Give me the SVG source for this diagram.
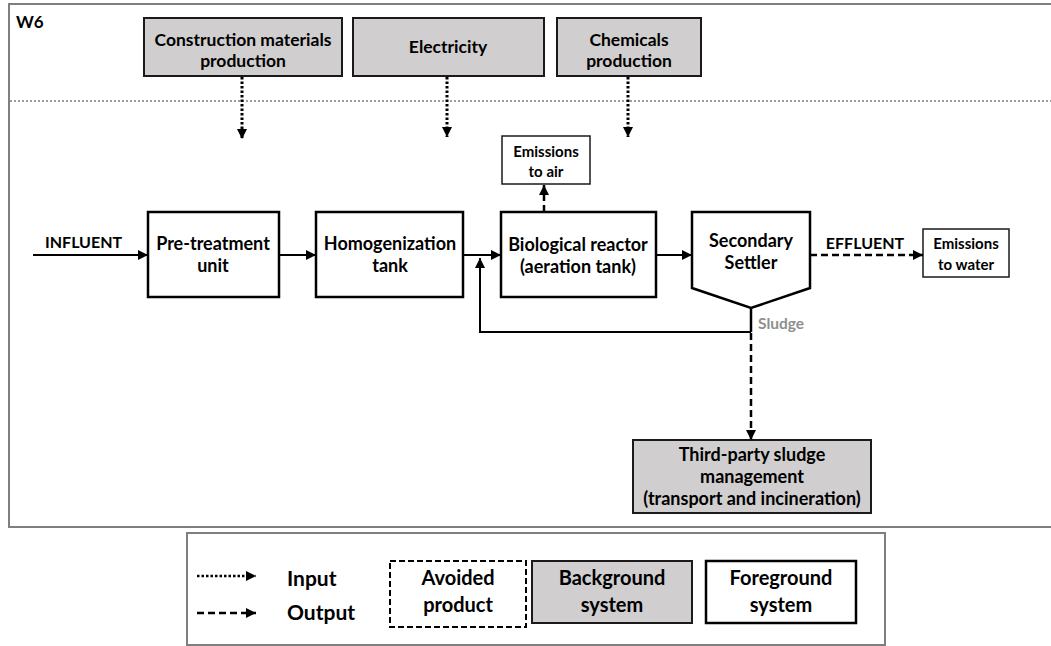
<svg xmlns="http://www.w3.org/2000/svg" width="1051" height="646" viewBox="0 0 1051 646">
<style>
text{font-family:"Lato","Liberation Sans",sans-serif;font-weight:bold;fill:#000;text-anchor:middle}
.bg{fill:#d0cece;stroke:#1a1a1a;stroke-width:2}
.fg{fill:#fff;stroke:#000;stroke-width:2.5}
.em{fill:#fff;stroke:#1a1a1a;stroke-width:1.5}
.t18{font-size:18px}
.t17{font-size:17.5px}
.t15{font-size:15px}
.t22{font-size:21px}
.t20{font-size:20px}
.solid{fill:none;stroke:#000;stroke-width:2}
.dot{fill:none;stroke:#000;stroke-width:3;stroke-dasharray:2.5 2}
.dash{fill:none;stroke:#000;stroke-width:2.5;stroke-dasharray:7 4}
</style>
<defs>
<marker id="ah" markerUnits="userSpaceOnUse" markerWidth="10" markerHeight="10" refX="10" refY="5" orient="auto"><path d="M0,0 L10,5 L0,10 z" fill="#000"/></marker>
</defs>
<rect width="1051" height="646" fill="#fff"/>
<g id="frame">
<rect x="9" y="4" width="1045" height="523" fill="none" stroke="#7f7f7f" stroke-width="2"/>
<line x1="10" y1="101" x2="1051" y2="101" stroke="#7f7f7f" stroke-width="1.5" stroke-dasharray="2 2"/>
<text x="16" y="28" style="font-size:17px;text-anchor:start">W6</text>
</g>
<g id="construction"><rect class="bg" x="144" y="18" width="198" height="58"/><text class="t17" x="243" y="46">Construction materials</text><text class="t17" x="243" y="67">production</text></g>
<g id="electricity"><rect class="bg" x="353" y="18" width="191" height="58"/><text class="t17" x="448" y="53">Electricity</text></g>
<g id="chemicals"><rect class="bg" x="557" y="18" width="144" height="58"/><text class="t17" x="629" y="46">Chemicals</text><text class="t17" x="629" y="67">production</text></g>
<g id="emissions-air"><rect class="em" x="502" y="136" width="88" height="48"/><text class="t15" x="546" y="157">Emissions</text><text class="t15" x="546" y="177">to air</text></g>
<g id="pretreatment"><rect class="fg" x="148" y="212" width="131" height="85"/><text class="t18" x="213" y="250">Pre-treatment</text><text class="t18" x="213" y="272">unit</text></g>
<g id="homogenization"><rect class="fg" x="316" y="212" width="147" height="85"/><text class="t18" x="390" y="250">Homogenization</text><text class="t18" x="390" y="272">tank</text></g>
<g id="bioreactor"><rect class="fg" x="501" y="212" width="155" height="85"/><text class="t18" x="578" y="251">Biological reactor</text><text class="t18" x="578" y="273">(aeration tank)</text></g>
<g id="settler"><path class="fg" d="M692,212 H810 V288 L751,308 L692,288 Z"/><text class="t18" x="751" y="247">Secondary</text><text class="t18" x="751" y="269">Settler</text></g>
<g id="emissions-water"><rect class="em" x="923" y="229" width="86" height="48"/><text class="t15" x="966" y="249">Emissions</text><text class="t15" x="966" y="270">to water</text></g>
<g id="sludge-mgmt"><rect class="bg" x="633" y="440" width="238" height="73"/><text class="t18" x="752" y="461">Third-party sludge</text><text class="t18" x="752" y="483">management</text><text class="t18" x="752" y="505">(transport and incineration)</text></g>
<g id="connectors">
<path class="dot" d="M242,77 V139" marker-end="url(#ah)"/>
<path class="dot" d="M447,77 V137" marker-end="url(#ah)"/>
<path class="dot" d="M628,77 V137" marker-end="url(#ah)"/>
<path class="solid" d="M33,255 H148" marker-end="url(#ah)"/>
<path class="solid" d="M279,255 H316" marker-end="url(#ah)"/>
<path class="solid" d="M463,255 H501" marker-end="url(#ah)"/>
<path class="solid" d="M656,255 H692" marker-end="url(#ah)"/>
<path class="dash" d="M544,212 V185" marker-end="url(#ah)"/>
<path class="dash" d="M810,255 H923" marker-end="url(#ah)"/>
<path class="solid" style="stroke-width:2.5" d="M751,308 V332"/>
<path class="solid" d="M751,332 H480 V258" marker-end="url(#ah)"/>
<path class="dash" d="M751,333 V440" marker-end="url(#ah)"/>
<text x="45" y="248" style="font-size:16px;text-anchor:start">INFLUENT</text>
<text x="865" y="249" style="font-size:16px">EFFLUENT</text>
<text x="758" y="329" style="font-size:15.5px;text-anchor:start;fill:#8f8f8f">Sludge</text>
</g>
<g id="legend">
<rect x="187" y="533" width="698" height="112" fill="none" stroke="#7f7f7f" stroke-width="2"/>
<path class="dot" style="stroke-width:2.5" d="M197,576 H256" marker-end="url(#ah)"/>
<path class="dash" d="M197,613 H256" marker-end="url(#ah)"/>
<text class="t22" x="287" y="586" style="text-anchor:start">Input</text>
<text class="t22" x="287" y="620" style="text-anchor:start">Output</text>
<rect x="390" y="561" width="136" height="66" fill="#fff" stroke="#000" stroke-width="2" stroke-dasharray="6 3"/>
<text class="t20" x="458" y="585">Avoided</text><text class="t20" x="458" y="612">product</text>
<rect class="bg" x="532" y="561" width="160" height="62"/>
<text class="t20" x="612" y="585">Background</text><text class="t20" x="612" y="612">system</text>
<rect class="fg" x="706" y="561" width="150" height="62"/>
<text class="t20" x="781" y="585">Foreground</text><text class="t20" x="781" y="612">system</text>
</g>
</svg>
